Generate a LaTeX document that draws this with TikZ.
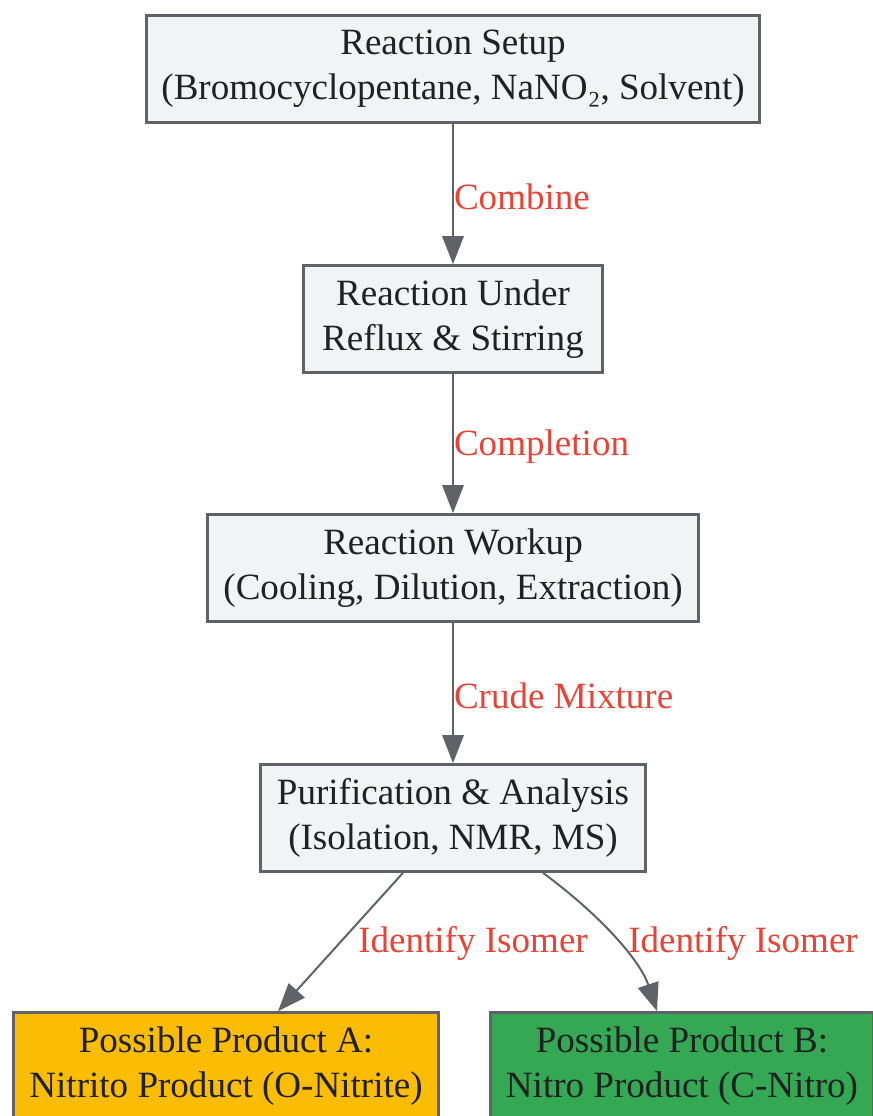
\documentclass[tikz,border=0pt]{standalone}
\usepackage{fontspec}
\setmainfont{Liberation Serif}
\usetikzlibrary{arrows.meta}
\definecolor{boxfill}{HTML}{F1F3F4}
\definecolor{boxline}{HTML}{5F6368}
\definecolor{boxtext}{HTML}{202124}
\definecolor{lblred}{HTML}{EA4335}
\definecolor{prodA}{HTML}{FBBC04}
\definecolor{prodB}{HTML}{34A853}
\tikzset{%
    box/.style={draw=boxline, line width=2.25pt, fill=boxfill, align=center,
        minimum height=80pt, inner sep=0pt, text=boxtext,
        font=\fontsize{27.8pt}{34pt}\selectfont}
}

\begin{document}
\begin{tikzpicture}[
        x=0.75pt, y=-0.75pt,
        edge/.style={draw=boxline, line width=1.5pt, -{Triangle[length=21pt,width=16pt]}},
        lbl/.style={text=lblred, inner sep=0pt, anchor=west, font=\fontsize{27.8pt}{34pt}\selectfont}
        ]
        \useasboundingbox (0,0) rectangle (873,1116);

        \node[box, minimum width=460pt] (setup) at (453,69) {Reaction Setup\\(Bromocyclopentane, NaNO₂, Solvent)};
        \node[box, minimum width=224pt] (reflux) at (453,319) {Reaction Under\\Reflux \& Stirring};
        \node[box, minimum width=368pt] (workup) at (453,568) {Reaction Workup\\(Cooling, Dilution, Extraction)};
        \node[box, minimum width=289pt] (purif) at (453,818) {Purification \& Analysis\\(Isolation, NMR, MS)};
        \node[box, minimum width=319pt, fill=prodA] (prodA) at (226,1066) {Possible Product A:\\Nitrito Product (O-Nitrite)};
        \node[box, minimum width=287pt, fill=prodB] (prodB) at (682,1066) {Possible Product B:\\Nitro Product (C-Nitro)};

        \draw[edge] (setup) -- node[lbl, pos=0.52] {Combine} (reflux);
        \draw[edge] (reflux) -- node[lbl, pos=0.52] {Completion} (workup);
        \draw[edge] (workup) -- node[lbl, pos=0.52] {Crude Mixture} (purif);
        \draw[edge] ([xshift=-37.5pt]purif.south) -- ([xshift=39pt]prodA.north);
        \draw[edge] ([xshift=67.5pt]purif.south) .. controls (600,915) and (640,960) .. ([xshift=-18.75pt]prodB.north);

        \node[lbl] (isoA) at (358,943) {Identify Isomer};
        \node[lbl] (isoB) at (628,943) {Identify Isomer};
    \end{tikzpicture}
\end{document}
